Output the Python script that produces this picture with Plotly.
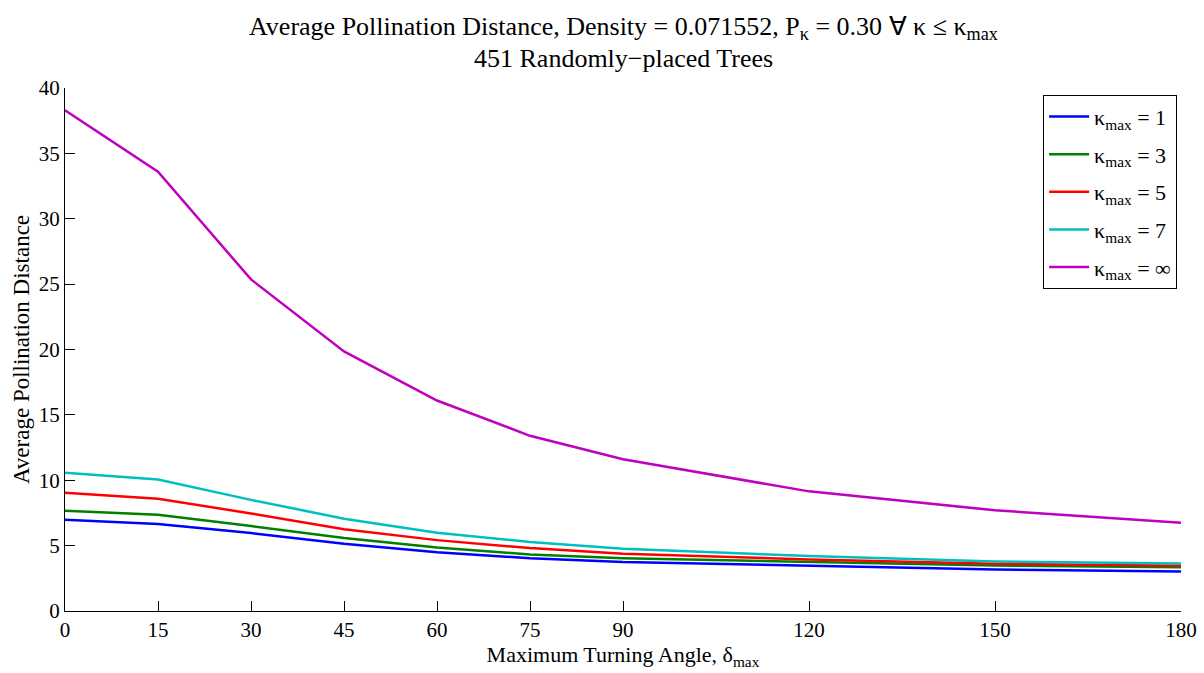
import plotly.graph_objects as go

angles = [0, 15, 30, 45, 60, 75, 90, 120, 150, 180]
k1 = [6.98, 6.65, 5.96, 5.14, 4.50, 4.04, 3.74, 3.46, 3.18, 3.02]
k3 = [7.67, 7.37, 6.50, 5.58, 4.86, 4.33, 4.04, 3.74, 3.48, 3.35]
k5 = [9.05, 8.59, 7.46, 6.26, 5.42, 4.81, 4.38, 3.94, 3.61, 3.46]
k7 = [10.58, 10.05, 8.50, 7.06, 5.99, 5.27, 4.76, 4.20, 3.79, 3.64]
kinf = [38.3, 33.6, 25.36, 19.85, 16.1, 13.4, 11.6, 9.15, 7.7, 6.75]

series_names = ["κ<sub>max</sub> = 1", "κ<sub>max</sub> = 3", "κ<sub>max</sub> = 5",
                "κ<sub>max</sub> = 7", "κ<sub>max</sub> = ∞"]
series_vals = [k1, k3, k5, k7, kinf]
colors = ["#0000ff", "#008000", "#ff0000", "#00bfbf", "#bf00bf"]

tick_vals = [0, 15, 30, 45, 60, 75, 90, 120, 150, 180]
y_ticks = [0, 5, 10, 15, 20, 25, 30, 35, 40]
font_family = "Liberation Serif"

fig = go.Figure()
for i, (name, vals, c) in enumerate(zip(series_names, series_vals, colors)):
    fig.add_trace(go.Scatter(x=angles, y=vals, mode="lines", name=name,
                             legendgroup=f"g{i}",
                             line=dict(color=c, width=2.5)))

fig.update_layout(
    width=1204, height=673,
    margin=dict(l=65, r=23, t=88, b=62),
    paper_bgcolor="white", plot_bgcolor="white",
    font=dict(family=font_family, size=21, color="black"),
    showlegend=True,
    legend=dict(x=0.9965, y=0.987, xanchor="right", yanchor="top",
                bordercolor="black", borderwidth=1, bgcolor="white",
                font=dict(size=22, family=font_family), tracegroupgap=6,
                itemwidth=40),
    xaxis=dict(range=[0, 180], tickvals=tick_vals, ticks="inside", ticklen=10,
               tickcolor="black", showline=True, linecolor="black", linewidth=1,
               showgrid=False, zeroline=False, tickfont=dict(size=21), automargin=False,
               title=dict(text="Maximum Turning Angle, δ<sub>max</sub>", standoff=0,
                          font=dict(size=22))),
    yaxis=dict(range=[0, 40], tickvals=y_ticks, ticks="inside",
               ticklen=10, tickcolor="black", showline=True, linecolor="black", linewidth=1,
               showgrid=False, zeroline=False, tickfont=dict(size=21), automargin=False,
               title=dict(text="Average Pollination Distance", standoff=2,
                          font=dict(size=23))),
)

fig.add_annotation(text="Average Pollination Distance, Density = 0.071552, P<sub>κ</sub> = 0.30 ∀ κ ≤ κ<sub>max</sub>",
                   xref="paper", yref="paper", x=0.5, y=1.115, xanchor="center", yanchor="middle",
                   showarrow=False, font=dict(size=26, family=font_family))
fig.add_annotation(text="451 Randomly−placed Trees",
                   xref="paper", yref="paper", x=0.5, y=1.0555, xanchor="center", yanchor="middle",
                   showarrow=False, font=dict(size=26, family=font_family))

fig.write_html("out.html")
